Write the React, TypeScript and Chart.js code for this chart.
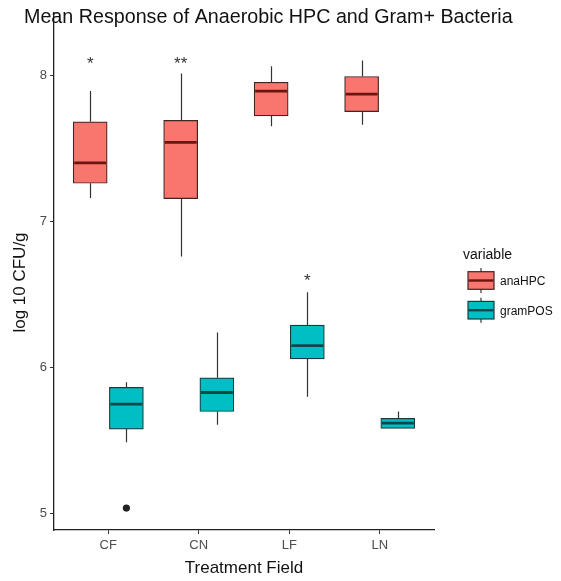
import React, { useEffect, useRef } from 'react';
import { Chart, registerables } from 'chart.js';

Chart.register(...registerables);

// ---------- data ----------
const categories = ['CF', 'CN', 'LF', 'LN'];
const seriesNames = ['anaHPC', 'gramPOS'];
const yTicks = [5, 6, 7, 8];

const anaMin = [7.16, 6.76, 7.65, 7.66];
const anaQ1 = [7.26, 7.155, 7.72, 7.75];
const anaMed = [7.4, 7.54, 7.89, 7.87];
const anaQ3 = [7.68, 7.69, 7.95, 7.99];
const anaMax = [7.89, 8.01, 8.06, 8.1];
const anaSig = ['*', '**', '', ''];
const anaSigY = [8.08, 8.08, null, null];

const gramMin = [5.49, 5.61, 5.8, 5.585];
const gramQ1 = [5.58, 5.7, 6.06, 5.585];
const gramMed = [5.75, 5.83, 6.15, 5.62];
const gramQ3 = [5.865, 5.93, 6.29, 5.653];
const gramMax = [5.9, 6.24, 6.515, 5.7];
const gramSig = ['', '', '*', ''];
const gramSigY = [null, null, 6.6, null];

const gramOutlierCats = ['CF'];
const gramOutlierValues = [5.04];

// ---------- styles ----------
const FONT = "'Liberation Sans', Arial, sans-serif";
const DODGE = 0.2;
const BOX_W = 34;
const WHISKER = '#333333';

const series = [
  {
    name: seriesNames[0], min: anaMin, q1: anaQ1, med: anaMed, q3: anaQ3, max: anaMax,
    sig: anaSig, sigY: anaSigY, offset: -DODGE,
    fill: '#F8766D', border: '#3e2624', median: '#6b1511',
  },
  {
    name: seriesNames[1], min: gramMin, q1: gramQ1, med: gramMed, q3: gramQ3, max: gramMax,
    sig: gramSig, sigY: gramSigY, offset: DODGE,
    fill: '#00BFC4', border: '#1d3a3b', median: '#0a4649',
  },
];

const boxPlugin = {
  id: 'boxExtras',
  beforeDatasetsDraw(chart: any) {
    const { ctx, scales } = chart;
    const x = scales.x, y = scales.y;
    ctx.save();
    ctx.strokeStyle = WHISKER;
    ctx.lineWidth = 1.2;
    series.forEach((s) => {
      categories.forEach((_c, i) => {
        const px = Math.round(x.getPixelForValue(i + 1 + s.offset)) + 0.5;
        ctx.beginPath();
        ctx.moveTo(px, y.getPixelForValue(s.max[i]));
        ctx.lineTo(px, y.getPixelForValue(s.q3[i]));
        ctx.moveTo(px, y.getPixelForValue(s.q1[i]));
        ctx.lineTo(px, y.getPixelForValue(s.min[i]));
        ctx.stroke();
      });
    });
    ctx.restore();
  },
  afterDatasetsDraw(chart: any) {
    const { ctx, scales } = chart;
    const x = scales.x, y = scales.y;
    ctx.save();
    series.forEach((s) => {
      categories.forEach((_c, i) => {
        const px = x.getPixelForValue(i + 1 + s.offset);
        const py = y.getPixelForValue(s.med[i]);
        ctx.strokeStyle = s.median;
        ctx.lineWidth = 2.8;
        ctx.beginPath();
        ctx.moveTo(px - BOX_W / 2 + 1, py);
        ctx.lineTo(px + BOX_W / 2 - 1, py);
        ctx.stroke();
        if (s.sig[i] && s.sigY[i] != null) {
          const fs = 17;
          ctx.fillStyle = '#333333';
          ctx.font = `${fs}px ${FONT}`;
          ctx.textAlign = 'center';
          ctx.textBaseline = 'alphabetic';
          const sy = y.getPixelForValue(s.sigY[i] as number);
          ctx.fillText(s.sig[i], px, sy + 0.35 * fs);
        }
      });
    });
    ctx.restore();
  },
  afterDraw(chart: any) {
    const { ctx, chartArea } = chart;
    ctx.save();
    // main title
    ctx.fillStyle = '#111111';
    ctx.font = `19.7px ${FONT}`;
    ctx.textAlign = 'left';
    ctx.textBaseline = 'alphabetic';
    ctx.fillText('Mean Response of Anaerobic HPC and Gram+ Bacteria', 24, 23);

    // y axis title
    ctx.save();
    ctx.translate(20, (chartArea.top + chartArea.bottom) / 2 + 11);
    ctx.rotate(-Math.PI / 2);
    ctx.font = `17px ${FONT}`;
    ctx.textAlign = 'center';
    ctx.textBaseline = 'middle';
    ctx.fillStyle = '#111111';
    ctx.fillText('log 10 CFU/g', 0, 0);
    ctx.restore();

    // legend
    const lx = chartArea.right + 34;
    ctx.fillStyle = '#111111';
    ctx.font = `14px ${FONT}`;
    ctx.textAlign = 'left';
    ctx.textBaseline = 'alphabetic';
    ctx.fillText('variable', lx - 5, 259);
    series.forEach((s, k) => {
      const cy = 280.5 + k * 29.7;
      const kw = 26, kh = 17.6;
      const cx = lx + kw / 2;
      ctx.strokeStyle = WHISKER;
      ctx.lineWidth = 1.2;
      ctx.beginPath();
      ctx.moveTo(cx, cy - 12.5);
      ctx.lineTo(cx, cy + 12.5);
      ctx.stroke();
      ctx.fillStyle = s.fill;
      ctx.fillRect(lx, cy - kh / 2, kw, kh);
      ctx.strokeStyle = s.border;
      ctx.lineWidth = 1.2;
      ctx.strokeRect(lx, cy - kh / 2, kw, kh);
      ctx.strokeStyle = s.median;
      ctx.lineWidth = 2.4;
      ctx.beginPath();
      ctx.moveTo(lx + 0.6, cy);
      ctx.lineTo(lx + kw - 0.6, cy);
      ctx.stroke();
      ctx.fillStyle = '#111111';
      ctx.font = `12px ${FONT}`;
      ctx.textAlign = 'left';
      ctx.textBaseline = 'middle';
      ctx.fillText(s.name, lx + kw + 6, cy + 1);
      ctx.textBaseline = 'alphabetic';
    });
    ctx.restore();
  },
};

export default function App() {
  const ref = useRef<HTMLCanvasElement | null>(null);

  useEffect(() => {
    if (!ref.current) return;
    const datasets: any[] = series.map((s) => ({
      type: 'bar',
      label: s.name,
      data: categories.map((_c, i) => ({ x: i + 1 + s.offset, y: [s.q1[i], s.q3[i]] })),
      backgroundColor: s.fill,
      borderColor: s.border,
      borderWidth: 1.2,
      borderSkipped: false,
      barThickness: BOX_W,
      grouped: false,
    }));
    datasets.push({
      type: 'scatter',
      label: 'outliers',
      data: gramOutlierCats.map((c, k) => ({ x: categories.indexOf(c) + 1 + DODGE, y: gramOutlierValues[k] })),
      pointRadius: 3.6,
      backgroundColor: '#222222',
      borderColor: '#222222',
      pointBorderWidth: 0,
    });

    const chart = new Chart(ref.current, {
      type: 'bar',
      data: { datasets },
      plugins: [boxPlugin],
      options: {
        animation: false,
        responsive: false,
        maintainAspectRatio: false,
        layout: { padding: { top: 13, right: 127, bottom: 0, left: 0 } },
        plugins: { legend: { display: false }, tooltip: { enabled: false }, title: { display: false } },
        scales: {
          x: {
            type: 'linear',
            offset: false,
            min: 0.4,
            max: 4.6,
            afterBuildTicks: (scale: any) => {
              scale.ticks = categories.map((_c, i) => ({ value: i + 1 }));
            },
            afterFit: (scale: any) => { scale.height = 51; },
            ticks: {
              callback: (v: any) => categories[Math.round(Number(v)) - 1] ?? '',
              color: '#4d4d4d',
              font: { family: FONT, size: 13 },
              padding: 4,
              maxRotation: 0,
              autoSkip: false,
            },
            grid: { display: true, offset: false, drawOnChartArea: false, drawTicks: true, tickLength: 4, color: '#333333', lineWidth: 1 },
            border: { display: true, color: '#222222', width: 1.3 },
            title: {
              display: true,
              text: 'Treatment Field',
              color: '#111111',
              font: { family: FONT, size: 17 },
              padding: { top: 0, bottom: 2 },
            },
          },
          y: {
            type: 'linear',
            min: 4.89,
            max: 8.424,
            afterBuildTicks: (scale: any) => {
              scale.ticks = yTicks.map((v) => ({ value: v }));
            },
            afterFit: (scale: any) => { scale.width = 54; },
            ticks: {
              color: '#4d4d4d',
              font: { family: FONT, size: 13 },
              padding: 3,
            },
            grid: { display: true, drawOnChartArea: false, drawTicks: true, tickLength: 4, color: '#333333', lineWidth: 1 },
            border: { display: true, color: '#222222', width: 1.3 },
            title: { display: false },
          },
        },
      } as any,
    });
    return () => chart.destroy();
  }, []);

  return (
    <div style={{ position: 'absolute', left: 0, top: 0, width: 561, height: 581, background: '#ffffff' }}>
      <canvas ref={ref} width={561} height={581} style={{ width: 561, height: 581, display: 'block' }} />
    </div>
  );
}
